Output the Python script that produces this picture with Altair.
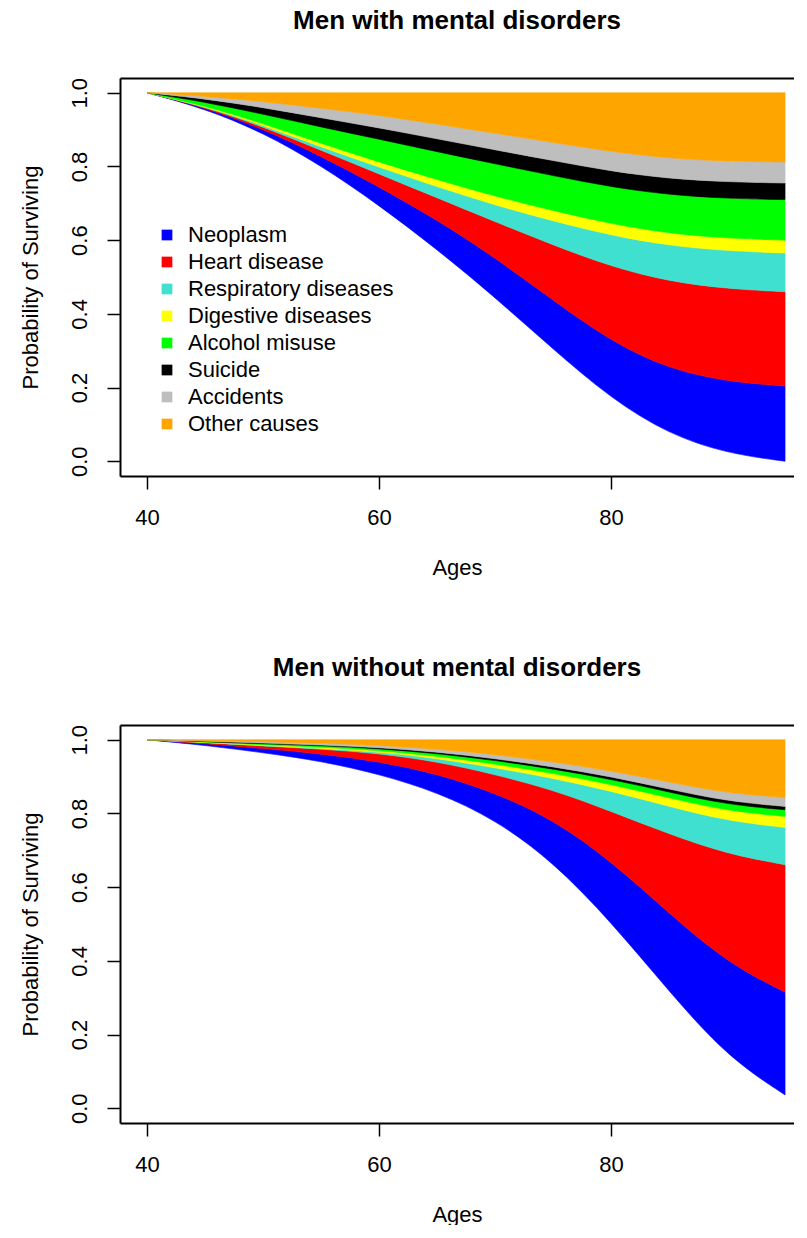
import altair as alt
import pandas as pd

ages = [40, 45, 50, 55, 60, 65, 70, 75, 80, 85, 90, 95]

causes = ["Neoplasm", "Heart disease", "Respiratory diseases", "Digestive diseases",
          "Alcohol misuse", "Suicide", "Accidents", "Other causes"]
colors = ["#0000FF", "#FF0000", "#40E0D0", "#FFFF00", "#00FF00", "#000000", "#BEBEBE", "#FFA500"]

# cumulative probability of dying from each cause, men with mental disorders
with_md = {
    "Neoplasm":             [0, .003, .010, .025, .050, .080, .108, .133, .155, .177, .195, .204],
    "Heart disease":        [0, .002, .006, .016, .035, .060, .097, .150, .203, .238, .252, .256],
    "Respiratory diseases": [0, .001, .004, .009, .018, .030, .045, .065, .085, .097, .103, .105],
    "Digestive diseases":   [0, .002, .005, .009, .014, .019, .024, .028, .031, .033, .034, .035],
    "Alcohol misuse":       [0, .010, .025, .045, .062, .076, .088, .095, .100, .105, .108, .110],
    "Suicide":              [0, .009, .018, .025, .031, .035, .038, .041, .043, .044, .045, .045],
    "Accidents":            [0, .007, .016, .026, .034, .040, .045, .049, .053, .055, .056, .057],
    "Other causes":         [0, .009, .024, .042, .061, .085, .110, .135, .160, .178, .186, .188],
}

# cumulative probability of dying from each cause, men without mental disorders
without_md = {
    "Neoplasm":             [0, .0045, .011, .020, .034, .050, .072, .115, .165, .212, .255, .279],
    "Heart disease":        [0, .003, .007, .013, .022, .033, .050, .080, .135, .215, .295, .346],
    "Respiratory diseases": [0, .0005, .001, .002, .004, .009, .018, .032, .055, .075, .090, .101],
    "Digestive diseases":   [0, .001, .002, .003, .004, .006, .010, .013, .018, .023, .027, .030],
    "Alcohol misuse":       [0, .001, .003, .004, .005, .007, .010, .012, .014, .016, .017, .018],
    "Suicide":              [0, .001, .002, .002, .003, .004, .005, .006, .007, .008, .009, .009],
    "Accidents":            [0, .002, .004, .005, .006, .008, .011, .013, .016, .019, .022, .024],
    "Other causes":         [0, .002, .005, .009, .015, .025, .040, .060, .084, .115, .145, .157],
}


def bands(cum):
    rows = []
    for i, a in enumerate(ages):
        total = sum(cum[c][i] for c in causes)
        low = 1.0 - total  # probability of surviving
        for k, c in enumerate(causes):
            up = low + cum[c][i]
            rows.append({"age": a, "cause": c, "order": k, "lower": low, "upper": up})
            low = up
    return pd.DataFrame(rows)


FONT = "Liberation Sans"
W, H = 674, 398

xs = alt.Scale(domain=[37.67, 95.77], nice=False, zero=False)
ys = alt.Scale(domain=[-0.04, 1.04], nice=False, zero=False)
cs = alt.Scale(domain=causes, range=colors)


def panel(df, title, show_legend):
    if show_legend:
        leg = alt.Legend(orient="none", legendX=36, legendY=146, title=None,
                         symbolType="square", symbolSize=115, symbolStrokeWidth=0,
                         labelFont=FONT, labelFontSize=22, labelColor="black",
                         labelLimit=0, labelOffset=10, rowPadding=5, padding=0)
    else:
        leg = None
    areas = alt.Chart(df).mark_area(interpolate="basis", strokeWidth=0.6).encode(
        x=alt.X("age:Q", scale=xs,
                axis=alt.Axis(values=[40, 60, 80], title="Ages", tickSize=13,
                              labelPadding=18, titlePadding=29, labelAngle=0)),
        y=alt.Y("upper:Q", scale=ys,
                axis=alt.Axis(values=[0, 0.2, 0.4, 0.6, 0.8, 1.0], format=".1f",
                              title="Probability of Surviving", tickSize=13,
                              labelAngle=270, labelAlign="center", labelBaseline="bottom",
                              labelPadding=16, titlePadding=26)),
        y2="lower:Q",
        color=alt.Color("cause:N", scale=cs, legend=leg),
        stroke=alt.Stroke("cause:N", scale=cs, legend=None),
        order="order:Q",
    )
    top = alt.Chart(df).mark_point(opacity=0).encode(
        x=alt.X("age:Q", scale=xs,
                axis=alt.Axis(orient="top", labels=False, ticks=False, title=None,
                              domain=True)),
    )
    return alt.layer(areas, top).resolve_axis(x="independent").properties(
        width=W, height=H,
        title=alt.TitleParams(title, font=FONT, fontSize=26, fontWeight="bold",
                              color="black", anchor="middle", offset=43),
    )


p1 = panel(bands(with_md), "Men with mental disorders", True)
p2 = panel(bands(without_md), "Men without mental disorders", False)

chart = alt.vconcat(p1, p2, spacing=77).resolve_scale(color="independent", stroke="independent").properties(
    padding={"left": 11, "top": 0, "right": 0, "bottom": 0}
).configure_view(strokeWidth=0).configure_axis(
    grid=False, domainColor="black", domainWidth=2, tickColor="black", tickWidth=1.5,
    labelFont=FONT, labelFontSize=22, labelColor="black",
    titleFont=FONT, titleFontSize=22, titleFontWeight="normal", titleColor="black",
)

chart.save("out.html", embed_options={"renderer": "svg", "actions": False})
